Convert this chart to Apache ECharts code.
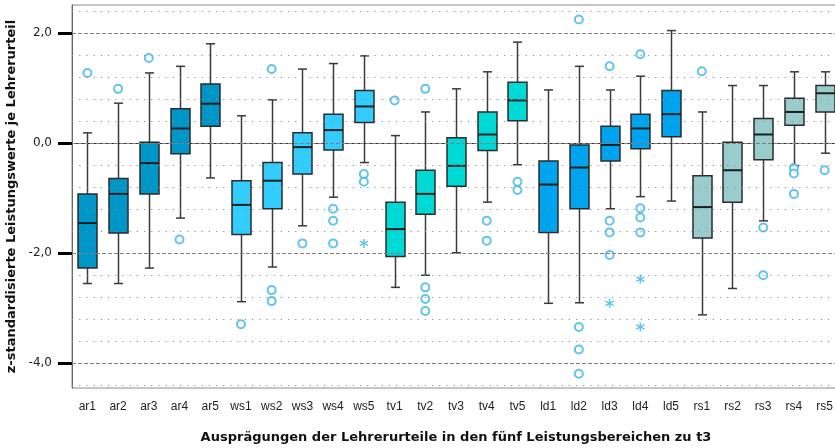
<!DOCTYPE html>
<html>
<head>
<meta charset="utf-8">
<script src="https://cdn.jsdelivr.net/npm/echarts@6/dist/echarts.min.js"></script>
<style>
html,body{margin:0;padding:0;background:#fff;}
#chart{width:835px;height:448px;}
</style>
</head>
<body>
<div id="chart"></div>
<script>
const categories = ['ar1','ar2','ar3','ar4','ar5','ws1','ws2','ws3','ws4','ws5','tv1','tv2','tv3','tv4','tv5','ld1','ld2','ld3','ld4','ld5','rs1','rs2','rs3','rs4','rs5'];
const whiskerLow  = [-2.55,-2.55,-2.27,-1.36,-0.63, -2.88,-2.25,-1.50,-0.98,-0.35, -2.62,-2.40,-1.99,-1.07,-0.39, -2.91,-2.90,-1.19,-0.97,-1.05, -3.12,-2.64,-1.41,-0.41,-0.18];
const q1          = [-2.27,-1.63,-0.92,-0.19, 0.31, -1.66,-1.19,-0.56,-0.12, 0.38, -2.06,-1.29,-0.78,-0.13, 0.41, -1.62,-1.19,-0.32,-0.10, 0.12, -1.72,-1.07,-0.30, 0.33, 0.57];
const median      = [-1.45,-0.92,-0.36, 0.27, 0.72, -1.12,-0.68,-0.07, 0.24, 0.67, -1.56,-0.92,-0.41, 0.16, 0.78, -0.75,-0.44,-0.03, 0.27, 0.53, -1.16,-0.49, 0.16, 0.57, 0.91];
const q3          = [-0.92,-0.64, 0.02, 0.63, 1.08, -0.68,-0.35, 0.19, 0.53, 0.96, -1.07,-0.49, 0.10, 0.57, 1.11, -0.32,-0.03, 0.31, 0.53, 0.96, -0.59, 0.02, 0.45, 0.82, 1.05];
const whiskerHigh = [ 0.19, 0.73, 1.28, 1.40, 1.81,  0.50, 0.79, 1.35, 1.45, 1.59,  0.14, 0.57, 0.99, 1.30, 1.84,  0.97, 1.40, 0.97, 1.22, 2.05,  0.57, 1.05, 1.05, 1.30, 1.30];

// outliers (circles): [category, value]
const outliers = [
  ['ar1', 1.28], ['ar2', 0.99], ['ar3', 1.55], ['ar4', -1.75],
  ['ws1', -3.29], ['ws2', 1.35], ['ws2', -2.67], ['ws2', -2.87],
  ['ws3', -1.82], ['ws4', -1.19], ['ws4', -1.41], ['ws4', -1.82],
  ['ws5', -0.56], ['ws5', -0.70],
  ['tv1', 0.78], ['tv2', 0.99], ['tv2', -2.62], ['tv2', -2.83], ['tv2', -3.05],
  ['tv4', -1.41], ['tv4', -1.77], ['tv5', -0.70], ['tv5', -0.85],
  ['ld2', 2.25], ['ld2', -3.34], ['ld2', -3.75], ['ld2', -4.19],
  ['ld3', 1.40], ['ld3', -1.41], ['ld3', -1.62], ['ld3', -2.03],
  ['ld4', 1.62], ['ld4', -1.18], ['ld4', -1.35], ['ld4', -1.62],
  ['rs1', 1.31], ['rs3', -1.53], ['rs3', -2.40],
  ['rs4', -0.45], ['rs4', -0.55], ['rs4', -0.92], ['rs5', -0.49]
];
// extreme values (asterisks)
const extremes = [['ws5', -1.82], ['ld3', -2.91], ['ld4', -2.47], ['ld4', -3.34]];

const yTickValues = [-4, -2, 0, 2];
const groupColors = ['#0096C8', '#33CCFF', '#00DAD6', '#00A4EE', '#99CCCC'];

const FONT = 'Liberation Sans';
const TITLE_FONT = 'DejaVu Sans';
const outlierColor = '#3CB5E6';
const asteriskPath = 'path://M-0.8,-5L0.8,-5L0.8,5L-0.8,5Z M-3.93,3.19L-4.73,1.81L3.93,-3.19L4.73,-1.81Z M-4.73,-1.81L-3.93,-3.19L4.73,1.81L3.93,3.19Z';

// grid lines (dotted every 0.4, dashed every 2)
const gridLines = [];
for (let k = -11; k <= 6; k++) {
  const v = +(k * 0.4).toFixed(2);
  const major = (k % 5 === 0);
  gridLines.push({
    yAxis: v,
    lineStyle: major
      ? { color: '#808080', width: 1, type: [4, 2] }
      : { color: '#909090', width: 1.2, type: [1.2, 6] }
  });
}

const boxData = categories.map((c, i) => [i, whiskerLow[i], q1[i], median[i], q3[i], whiskerHigh[i]]);

function renderBox(params, api) {
  const i = api.value(0);
  const pLow = api.coord([i, api.value(1)]);
  const pQ1 = api.coord([i, api.value(2)]);
  const pMed = api.coord([i, api.value(3)]);
  const pQ3 = api.coord([i, api.value(4)]);
  const pHigh = api.coord([i, api.value(5)]);
  const x = Math.round(pMed[0]) + 0.5;
  const hb = 9.5, hc = 4.5;
  const color = groupColors[Math.floor(i / 5)];
  const wStyle = { stroke: '#3a3a3a', lineWidth: 1.5 };
  return {
    type: 'group',
    children: [
      { type: 'line', shape: { x1: x, y1: pHigh[1], x2: x, y2: pQ3[1] }, style: wStyle },
      { type: 'line', shape: { x1: x, y1: pQ1[1], x2: x, y2: pLow[1] }, style: wStyle },
      { type: 'line', shape: { x1: x - hc, y1: pHigh[1], x2: x + hc, y2: pHigh[1] }, style: wStyle },
      { type: 'line', shape: { x1: x - hc, y1: pLow[1], x2: x + hc, y2: pLow[1] }, style: wStyle },
      { type: 'rect', shape: { x: x - hb, y: pQ3[1], width: 2 * hb, height: pQ1[1] - pQ3[1] },
        style: { fill: color, stroke: '#2b2b2b', lineWidth: 1.5 } },
      { type: 'line', shape: { x1: x - hb, y1: pMed[1], x2: x + hb, y2: pMed[1] },
        style: { stroke: '#1e1e1e', lineWidth: 2 } }
    ]
  };
}

const chart = echarts.init(document.getElementById('chart'), null, { renderer: 'canvas' });
chart.setOption({
  animation: false,
  backgroundColor: '#ffffff',
  grid: { left: 72, top: 5, width: 768, height: 383, outerBoundsMode: 'none', containLabel: false,
    show: true, borderColor: '#8a8a8a', borderWidth: 1, backgroundColor: '#ffffff' },
  xAxis: {
    type: 'category',
    data: categories,
    boundaryGap: true,
    axisLine: { lineStyle: { color: '#333', width: 1 } },
    axisTick: { alignWithLabel: true, length: 7, lineStyle: { color: '#000', width: 2.5 } },
    axisLabel: { margin: 13, fontSize: 12, color: '#222', fontFamily: FONT },
    splitLine: { show: false },
    name: 'Ausprägungen der Lehrerurteile in den fünf Leistungsbereichen zu t3',
    nameLocation: 'middle',
    nameGap: 43,
    nameTextStyle: { fontSize: 13, fontWeight: 'bold', color: '#111', fontFamily: TITLE_FONT }
  },
  yAxis: {
    type: 'value',
    min: -4.45,
    max: 2.515,
    axisLine: { show: true, lineStyle: { color: '#666', width: 1 } },
    axisTick: { show: true, customValues: yTickValues, length: 14, lineStyle: { color: '#000', width: 3 } },
    axisLabel: { customValues: yTickValues, margin: 20, fontSize: 12, color: '#222', fontFamily: TITLE_FONT,
      formatter: v => v.toFixed(1).replace('.', ',') },
    splitLine: { show: false },
    name: 'z-standardisierte Leistungswerte je Lehrerurteil',
    nameLocation: 'middle',
    nameRotate: 90,
    nameGap: 51,
    nameTextStyle: { fontSize: 13, fontWeight: 'bold', color: '#111', fontFamily: TITLE_FONT }
  },
  series: [
    {
      type: 'scatter', data: [], z: 1, silent: true,
      markLine: { silent: true, symbol: 'none', label: { show: false }, animation: false, data: gridLines }
    },
    {
      type: 'custom', z: 3, renderItem: renderBox, data: boxData,
      encode: { x: 0, y: [1, 2, 3, 4, 5] }
    },
    {
      type: 'scatter', z: 4, data: outliers, symbol: 'emptyCircle', symbolSize: 8,
      itemStyle: { color: outlierColor, borderColor: outlierColor, borderWidth: 1.5 }
    },
    {
      type: 'scatter', z: 4, data: extremes, symbol: asteriskPath, symbolSize: 9,
      itemStyle: { color: outlierColor }
    }
  ]
});
</script>
</body>
</html>
